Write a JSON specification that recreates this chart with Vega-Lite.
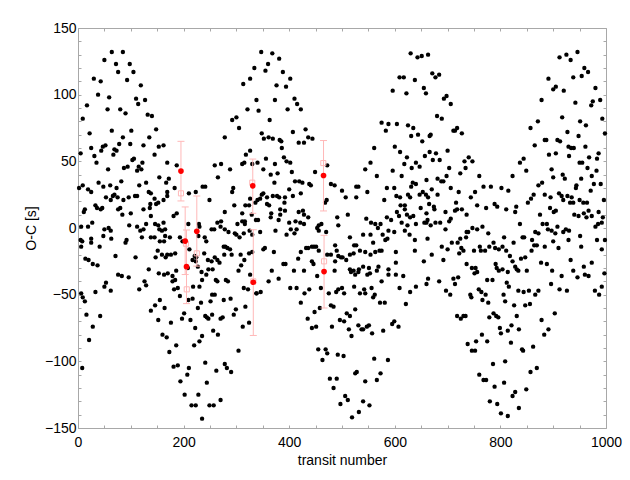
{
"$schema":"https://vega.github.io/schema/vega-lite/v6.json",
"width":528,"height":400,
"autosize":{"type":"none"},
"padding":{"left":78,"top":28,"right":24,"bottom":52},
"background":"white",
"config":{"view":{"stroke":"#a8a8a8","strokeWidth":1},"font":"Liberation Sans"},
"datasets":{
"pts":[
{"x":64,"y":132},{"x":85,"y":132},{"x":50,"y":126},{"x":72,"y":123},{"x":98,"y":123},{"x":76,"y":117},{"x":105,"y":117},{"x":30,"y":112},{"x":43,"y":110},{"x":93,"y":111},{"x":119,"y":107},{"x":38,"y":100},{"x":59,"y":98},{"x":110,"y":97},{"x":127,"y":96},{"x":114,"y":93},{"x":17,"y":92},{"x":56,"y":89},{"x":80,"y":89},{"x":90,"y":86},{"x":9,"y":82},{"x":132,"y":85},{"x":140,"y":84},{"x":22,"y":71},{"x":64,"y":73},{"x":101,"y":73},{"x":148,"y":74},{"x":85,"y":68},{"x":135,"y":68},{"x":78,"y":63},{"x":99,"y":63},{"x":124,"y":62},{"x":52,"y":62},{"x":25,"y":60},{"x":47,"y":61},{"x":44,"y":58},{"x":69,"y":59},{"x":73,"y":58},{"x":153,"y":61},{"x":162,"y":62},{"x":5,"y":56},{"x":31,"y":54},{"x":67,"y":55},{"x":145,"y":55},{"x":106,"y":52},{"x":103,"y":51},{"x":278,"y":68},{"x":292,"y":81},{"x":300,"y":83},{"x":305,"y":75},{"x":313,"y":108},{"x":326,"y":112},{"x":334,"y":120},{"x":321,"y":89},{"x":338,"y":96},{"x":318,"y":55},{"x":326,"y":58},{"x":122,"y":49},{"x":2,"y":30},
{"x":347,"y":132},{"x":368,"y":131},{"x":381,"y":127},{"x":360,"y":123},{"x":355,"y":118},{"x":388,"y":117},{"x":402,"y":112},{"x":376,"y":107},{"x":394,"y":106},{"x":373,"y":96},{"x":410,"y":97},{"x":342,"y":88},{"x":415,"y":93},{"x":397,"y":89},{"x":422,"y":89},{"x":363,"y":81},{"x":348,"y":71},{"x":352,"y":67},{"x":361,"y":68},{"x":369,"y":67},{"x":382,"y":66},{"x":385,"y":65},{"x":386,"y":60},{"x":407,"y":72},{"x":431,"y":74},{"x":436,"y":68},{"x":444,"y":67},{"x":418,"y":64},{"x":428,"y":64},{"x":390,"y":53},{"x":356,"y":52},{"x":395,"y":50},{"x":340,"y":49},{"x":373,"y":48},{"x":402,"y":49},
{"x":630,"y":131},{"x":643,"y":128},{"x":651,"y":129},{"x":663,"y":130},{"x":609,"y":113},{"x":617,"y":113},{"x":638,"y":111},{"x":596,"y":103},{"x":622,"y":101},{"x":655,"y":105},{"x":659,"y":101},{"x":575,"y":79},{"x":583,"y":73},{"x":588,"y":78},{"x":604,"y":78},{"x":625,"y":77},{"x":635,"y":75},{"x":644,"y":70},{"x":631,"y":69},{"x":652,"y":65},{"x":666,"y":69},{"x":561,"y":60},{"x":600,"y":61},{"x":610,"y":57},{"x":623,"y":53},{"x":657,"y":54},{"x":666,"y":57},{"x":554,"y":49},{"x":618,"y":48},{"x":640,"y":49},
{"x":671,"y":116},{"x":677,"y":113},{"x":684,"y":115},{"x":693,"y":97},{"x":698,"y":99},{"x":706,"y":93},{"x":680,"y":84},{"x":689,"y":82},{"x":668,"y":70},{"x":711,"y":73},{"x":714,"y":73},{"x":718,"y":75},{"x":727,"y":71},{"x":700,"y":58},{"x":678,"y":56},{"x":672,"y":51},{"x":685,"y":51},{"x":740,"y":53},{"x":732,"y":50},{"x":747,"y":50},
{"x":946,"y":132},{"x":925,"y":130},{"x":912,"y":128},{"x":933,"y":126},{"x":959,"y":120},{"x":966,"y":117},{"x":891,"y":112},{"x":938,"y":113},{"x":954,"y":114},{"x":900,"y":104},{"x":905,"y":106},{"x":920,"y":103},{"x":980,"y":105},{"x":878,"y":96},{"x":975,"y":95},{"x":989,"y":96},{"x":972,"y":92},{"x":942,"y":94},{"x":917,"y":83},{"x":951,"y":80},{"x":962,"y":77},{"x":993,"y":82},{"x":871,"y":80},{"x":857,"y":75},{"x":998,"y":71},{"x":927,"y":72},{"x":948,"y":69},{"x":884,"y":66},{"x":887,"y":66},{"x":908,"y":66},{"x":913,"y":65},{"x":865,"y":62},{"x":929,"y":61},{"x":934,"y":60},{"x":939,"y":60},{"x":961,"y":61},{"x":892,"y":55},{"x":905,"y":56},{"x":930,"y":54},{"x":968,"y":53},{"x":986,"y":56},{"x":983,"y":52},{"x":844,"y":52},{"x":837,"y":49},{"x":950,"y":49},{"x":955,"y":49},
{"x":35,"y":49},{"x":94,"y":46},{"x":87,"y":45},{"x":57,"y":44},{"x":115,"y":46},{"x":112,"y":43},{"x":120,"y":44},{"x":169,"y":49},{"x":187,"y":47},{"x":259,"y":47},{"x":271,"y":48},{"x":311,"y":48},{"x":315,"y":49},{"x":330,"y":48},{"x":154,"y":38},{"x":172,"y":37},{"x":167,"y":34},{"x":82,"y":35},{"x":39,"y":34},{"x":116,"y":32},{"x":129,"y":34},{"x":9,"y":32},{"x":48,"y":31},{"x":61,"y":32},{"x":236,"y":31},{"x":241,"y":31},{"x":265,"y":38},{"x":288,"y":44},{"x":294,"y":30},{"x":183,"y":30},{"x":19,"y":29},{"x":25,"y":27},{"x":73,"y":30},{"x":66,"y":24},{"x":69,"y":25},{"x":75,"y":23},{"x":53,"y":23},{"x":62,"y":21},{"x":108,"y":24},{"x":112,"y":24},{"x":86,"y":21},{"x":96,"y":23},{"x":134,"y":27},{"x":138,"y":26},{"x":145,"y":22},{"x":162,"y":21},{"x":169,"y":27},{"x":169,"y":24},{"x":210,"y":26},{"x":223,"y":27},{"x":249,"y":21},{"x":292,"y":27},{"x":326,"y":22},{"x":152,"y":19},{"x":148,"y":18},{"x":13,"y":14},{"x":11,"y":12},{"x":33,"y":17},{"x":36,"y":15},{"x":43,"y":14},{"x":46,"y":15},{"x":80,"y":15},{"x":76,"y":14},{"x":100,"y":11},{"x":84,"y":10},{"x":124,"y":14},{"x":136,"y":15},{"x":137,"y":18},{"x":187,"y":11},{"x":181,"y":9},{"x":138,"y":9},{"x":296,"y":17},{"x":317,"y":17},{"x":324,"y":17},{"x":311,"y":11},{"x":278,"y":12},{"x":329,"y":10},{"x":316,"y":5},{"x":6,"y":1},{"x":19,"y":1},{"x":27,"y":4},{"x":50,"y":-1},{"x":58,"y":0},{"x":62,"y":-2},{"x":97,"y":2},{"x":112,"y":1},{"x":129,"y":3},{"x":124,"y":-1},{"x":118,"y":-2},{"x":146,"y":3},{"x":152,"y":2},{"x":162,"y":4},{"x":154,"y":-1},{"x":159,"y":-2},{"x":145,"y":-7},{"x":165,"y":-1},{"x":209,"y":3},{"x":229,"y":3},{"x":230,"y":1},{"x":253,"y":-1},{"x":258,"y":-1},{"x":264,"y":4},{"x":271,"y":5},{"x":270,"y":1},{"x":278,"y":-1},{"x":302,"y":3},{"x":311,"y":5},{"x":316,"y":3},{"x":325,"y":-2},{"x":5,"y":-9},{"x":8,"y":-10},{"x":25,"y":-8},{"x":25,"y":-11},{"x":48,"y":-6},{"x":63,"y":-8},{"x":92,"y":-9},{"x":90,"y":-11},{"x":121,"y":-7},{"x":138,"y":-7},{"x":155,"y":-10},{"x":163,"y":-10},{"x":165,"y":-6},{"x":174,"y":-7},{"x":193,"y":-7},{"x":198,"y":-10},{"x":228,"y":-6},{"x":240,"y":-7},{"x":243,"y":-10},{"x":285,"y":-3},{"x":297,"y":-4},{"x":300,"y":-5},{"x":306,"y":-7},{"x":314,"y":-4},{"x":330,"y":-5},{"x":6,"y":-14},{"x":41,"y":-14},{"x":276,"y":-14},{"x":279,"y":-14},{"x":283,"y":-15},{"x":288,"y":-16},{"x":151,"y":-17},{"x":159,"y":-20},{"x":169,"y":-20},{"x":166,"y":-22},{"x":176,"y":-20},{"x":184,"y":-19},{"x":211,"y":-16},{"x":217,"y":-24},{"x":224,"y":-22},{"x":221,"y":-21},{"x":239,"y":-19},{"x":291,"y":-20},{"x":308,"y":-20},{"x":324,"y":-19},{"x":330,"y":-18},{"x":277,"y":-20},{"x":109,"y":-22},{"x":147,"y":-22},{"x":14,"y":-23},{"x":20,"y":-24},{"x":71,"y":-21},{"x":223,"y":-25},{"x":227,"y":-29},{"x":246,"y":-24},{"x":253,"y":-25},{"x":259,"y":-22},{"x":264,"y":-24},{"x":268,"y":-26},{"x":309,"y":-28},{"x":315,"y":-24},{"x":28,"y":-27},{"x":37,"y":-28},{"x":134,"y":-31},{"x":186,"y":-32},{"x":170,"y":-34},{"x":208,"y":-30},{"x":234,"y":-33},{"x":247,"y":-31},{"x":255,"y":-31},{"x":76,"y":-35},{"x":83,"y":-36},{"x":96,"y":-37},{"x":153,"y":-34},{"x":163,"y":-35},{"x":179,"y":-36},{"x":184,"y":-39},{"x":235,"y":-39},{"x":243,"y":-35},{"x":261,"y":-39},{"x":264,"y":-40},{"x":280,"y":-39},{"x":284,"y":-40},{"x":326,"y":-35},{"x":304,"y":-32},{"x":53,"y":-41},{"x":50,"y":-44},{"x":126,"y":-40},{"x":129,"y":-43},{"x":179,"y":-40},{"x":182,"y":-46},{"x":189,"y":-45},{"x":218,"y":-44},{"x":230,"y":-44},{"x":116,"y":-46},{"x":33,"y":-48},{"x":259,"y":-50},{"x":254,"y":-50},{"x":314,"y":-45},{"x":322,"y":-46},
{"x":351,"y":44},{"x":365,"y":40},{"x":378,"y":41},{"x":405,"y":42},{"x":449,"y":42},{"x":472,"y":47},{"x":544,"y":44},{"x":566,"y":39},{"x":596,"y":43},{"x":613,"y":39},{"x":632,"y":45},{"x":647,"y":46},{"x":372,"y":34},{"x":411,"y":35},{"x":419,"y":35},{"x":425,"y":34},{"x":438,"y":33},{"x":441,"y":32},{"x":479,"y":33},{"x":486,"y":32},{"x":500,"y":28},{"x":527,"y":31},{"x":531,"y":31},{"x":548,"y":27},{"x":585,"y":30},{"x":599,"y":30},{"x":634,"y":34},{"x":640,"y":33},{"x":631,"y":31},{"x":653,"y":27},{"x":659,"y":25},{"x":647,"y":25},{"x":625,"y":25},{"x":351,"y":26},{"x":348,"y":25},{"x":340,"y":21},{"x":345,"y":22},{"x":336,"y":19},{"x":358,"y":23},{"x":369,"y":24},{"x":377,"y":24},{"x":381,"y":23},{"x":392,"y":23},{"x":391,"y":19},{"x":400,"y":29},{"x":407,"y":24},{"x":422,"y":26},{"x":471,"y":21},{"x":468,"y":19},{"x":507,"y":23},{"x":527,"y":23},{"x":580,"y":21},{"x":603,"y":24},{"x":610,"y":23},{"x":629,"y":23},{"x":663,"y":23},{"x":611,"y":17},{"x":619,"y":17},{"x":619,"y":14},{"x":358,"y":18},{"x":362,"y":17},{"x":383,"y":14},{"x":392,"y":13},{"x":383,"y":10},{"x":366,"y":11},{"x":418,"y":12},{"x":426,"y":13},{"x":428,"y":10},{"x":436,"y":8},{"x":511,"y":10},{"x":585,"y":8},{"x":604,"y":12},{"x":608,"y":9},{"x":613,"y":4},{"x":593,"y":6},{"x":623,"y":10},{"x":629,"y":8},{"x":635,"y":9},{"x":649,"y":15},{"x":660,"y":11},{"x":656,"y":4},{"x":640,"y":3},{"x":337,"y":6},{"x":341,"y":6},{"x":365,"y":8},{"x":380,"y":6},{"x":400,"y":4},{"x":412,"y":5},{"x":403,"y":-1},{"x":414,"y":-1},{"x":421,"y":4},{"x":428,"y":3},{"x":453,"y":0},{"x":456,"y":2},{"x":461,"y":3},{"x":456,"y":-2},{"x":470,"y":-3},{"x":491,"y":8},{"x":493,"y":2},{"x":546,"y":7},{"x":555,"y":4},{"x":563,"y":3},{"x":573,"y":3},{"x":568,"y":0},{"x":588,"y":-2},{"x":599,"y":-3},{"x":624,"y":2},{"x":345,"y":-3},{"x":374,"y":-2},{"x":395,"y":-5},{"x":410,"y":-4},{"x":515,"y":-7},{"x":523,"y":-13},{"x":527,"y":-13},{"x":540,"y":-5},{"x":554,"y":-5},{"x":559,"y":-11},{"x":577,"y":-5},{"x":582,"y":-9},{"x":586,"y":-8},{"x":619,"y":-2},{"x":628,"y":-5},{"x":638,"y":-9},{"x":662,"y":-8},{"x":351,"y":-16},{"x":354,"y":-15},{"x":371,"y":-18},{"x":422,"y":-18},{"x":432,"y":-15},{"x":436,"y":-15},{"x":443,"y":-14},{"x":447,"y":-14},{"x":451,"y":-14},{"x":456,"y":-17},{"x":472,"y":-20},{"x":479,"y":-20},{"x":487,"y":-13},{"x":490,"y":-17},{"x":498,"y":-22},{"x":508,"y":-24},{"x":515,"y":-20},{"x":522,"y":-19},{"x":534,"y":-17},{"x":544,"y":-18},{"x":554,"y":-20},{"x":563,"y":-18},{"x":571,"y":-17},{"x":575,"y":-17},{"x":602,"y":-18},{"x":638,"y":-17},{"x":389,"y":-27},{"x":393,"y":-27},{"x":417,"y":-23},{"x":443,"y":-25},{"x":446,"y":-27},{"x":487,"y":-25},{"x":493,"y":-21},{"x":501,"y":-22},{"x":515,"y":-31},{"x":522,"y":-32},{"x":532,"y":-31},{"x":540,"y":-29},{"x":551,"y":-30},{"x":569,"y":-29},{"x":588,"y":-31},{"x":602,"y":-26},{"x":655,"y":-25},{"x":367,"y":-32},{"x":361,"y":-40},{"x":380,"y":-38},{"x":409,"y":-32},{"x":428,"y":-32},{"x":453,"y":-36},{"x":486,"y":-32},{"x":517,"y":-33},{"x":525,"y":-35},{"x":531,"y":-33},{"x":548,"y":-35},{"x":553,"y":-34},{"x":566,"y":-32},{"x":575,"y":-40},{"x":588,"y":-35},{"x":602,"y":-35},{"x":616,"y":-36},{"x":663,"y":-38},{"x":338,"y":-49},{"x":346,"y":-48},{"x":402,"y":-45},{"x":414,"y":-45},{"x":429,"y":-49},{"x":438,"y":-46},{"x":460,"y":-45},{"x":489,"y":-48},{"x":493,"y":-46},{"x":500,"y":-45},{"x":504,"y":-49},{"x":523,"y":-44},{"x":542,"y":-46},{"x":556,"y":-45},{"x":562,"y":-50},{"x":609,"y":-45},{"x":629,"y":-48},{"x":640,"y":-44},{"x":660,"y":-42},
{"x":703,"y":45},{"x":734,"y":45},{"x":724,"y":41},{"x":760,"y":39},{"x":849,"y":43},{"x":823,"y":39},{"x":897,"y":44},{"x":900,"y":38},{"x":918,"y":40},{"x":922,"y":37},{"x":965,"y":45},{"x":973,"y":39},{"x":982,"y":43},{"x":660,"y":36},{"x":681,"y":37},{"x":688,"y":35},{"x":692,"y":35},{"x":698,"y":39},{"x":706,"y":30},{"x":721,"y":27},{"x":744,"y":23},{"x":752,"y":27},{"x":768,"y":31},{"x":782,"y":31},{"x":802,"y":30},{"x":815,"y":28},{"x":863,"y":25},{"x":858,"y":22},{"x":852,"y":19},{"x":872,"y":32},{"x":879,"y":34},{"x":884,"y":25},{"x":895,"y":23},{"x":911,"y":26},{"x":916,"y":24},{"x":919,"y":21},{"x":927,"y":24},{"x":935,"y":23},{"x":932,"y":19},{"x":938,"y":19},{"x":950,"y":21},{"x":957,"y":19},{"x":964,"y":19},{"x":943,"y":30},{"x":944,"y":32},{"x":953,"y":37},{"x":971,"y":28},{"x":977,"y":33},{"x":990,"y":33},{"x":996,"y":21},{"x":670,"y":29},{"x":681,"y":25},{"x":665,"y":18},{"x":674,"y":16},{"x":675,"y":14},{"x":696,"y":12},{"x":716,"y":19},{"x":714,"y":13},{"x":718,"y":14},{"x":727,"y":14},{"x":736,"y":10},{"x":756,"y":17},{"x":773,"y":15},{"x":789,"y":18},{"x":794,"y":16},{"x":811,"y":14},{"x":830,"y":16},{"x":828,"y":12},{"x":875,"y":10},{"x":894,"y":15},{"x":905,"y":13},{"x":901,"y":12},{"x":940,"y":10},{"x":948,"y":9},{"x":958,"y":11},{"x":963,"y":8},{"x":967,"y":13},{"x":973,"y":9},{"x":986,"y":12},{"x":994,"y":8},{"x":662,"y":6},{"x":660,"y":4},{"x":668,"y":2},{"x":677,"y":4},{"x":686,"y":4},{"x":696,"y":-1},{"x":703,"y":5},{"x":706,"y":7},{"x":736,"y":-3},{"x":739,"y":-3},{"x":735,"y":-7},{"x":747,"y":0},{"x":756,"y":-1},{"x":766,"y":1},{"x":777,"y":-4},{"x":807,"y":-7},{"x":837,"y":3},{"x":842,"y":-7},{"x":845,"y":-7},{"x":866,"y":-3},{"x":872,"y":-4},{"x":880,"y":3},{"x":888,"y":3},{"x":890,"y":-1},{"x":897,"y":-2},{"x":904,"y":-4},{"x":908,"y":1},{"x":919,"y":-3},{"x":924,"y":-1},{"x":930,"y":-2},{"x":951,"y":-6},{"x":980,"y":1},{"x":985,"y":3},{"x":992,"y":4},{"x":689,"y":-14},{"x":700,"y":-16},{"x":708,"y":-11},{"x":719,"y":-11},{"x":724,"y":-8},{"x":726,"y":-15},{"x":730,"y":-17},{"x":722,"y":-19},{"x":750,"y":-17},{"x":761,"y":-14},{"x":763,"y":-17},{"x":771,"y":-17},{"x":779,"y":-14},{"x":787,"y":-11},{"x":790,"y":-15},{"x":797,"y":-16},{"x":804,"y":-14},{"x":825,"y":-11},{"x":811,"y":-17},{"x":818,"y":-21},{"x":847,"y":-22},{"x":860,"y":-9},{"x":864,"y":-13},{"x":869,"y":-13},{"x":859,"y":-17},{"x":884,"y":-14},{"x":900,"y":-10},{"x":910,"y":-15},{"x":929,"y":-9},{"x":953,"y":-14},{"x":983,"y":-9},{"x":992,"y":-16},{"x":998,"y":-9},{"x":670,"y":-20},{"x":692,"y":-24},{"x":736,"y":-27},{"x":746,"y":-30},{"x":753,"y":-30},{"x":756,"y":-33},{"x":751,"y":-34},{"x":791,"y":-27},{"x":793,"y":-30},{"x":797,"y":-32},{"x":804,"y":-31},{"x":814,"y":-33},{"x":823,"y":-25},{"x":828,"y":-29},{"x":831,"y":-31},{"x":834,"y":-32},{"x":839,"y":-23},{"x":850,"y":-32},{"x":877,"y":-26},{"x":888,"y":-27},{"x":898,"y":-32},{"x":933,"y":-24},{"x":938,"y":-32},{"x":958,"y":-29},{"x":973,"y":-26},{"x":997,"y":-34},{"x":684,"y":-40},{"x":697,"y":-47},{"x":705,"y":-50},{"x":711,"y":-38},{"x":714,"y":-42},{"x":720,"y":-37},{"x":743,"y":-50},{"x":759,"y":-46},{"x":764,"y":-48},{"x":775,"y":-39},{"x":785,"y":-39},{"x":812,"y":-41},{"x":816,"y":-44},{"x":834,"y":-47},{"x":844,"y":-48},{"x":854,"y":-47},{"x":872,"y":-47},{"x":866,"y":-50},{"x":896,"y":-42},{"x":916,"y":-36},{"x":912,"y":-46},{"x":926,"y":-47},{"x":946,"y":-37},{"x":960,"y":-35},{"x":967,"y":-36},{"x":992,"y":-44},{"x":979,"y":-47},{"x":987,"y":-50},
{"x":6,"y":-49},{"x":9,"y":-52},{"x":13,"y":-55},{"x":62,"y":-47},{"x":16,"y":-65},{"x":42,"y":-66},{"x":28,"y":-74},{"x":21,"y":-84},{"x":8,"y":-105},{"x":138,"y":-62},{"x":146,"y":-58},{"x":155,"y":-54},{"x":164,"y":-60},{"x":152,"y":-69},{"x":176,"y":-71},{"x":193,"y":-51},{"x":201,"y":-64},{"x":197,"y":-68},{"x":209,"y":-54},{"x":217,"y":-53},{"x":227,"y":-60},{"x":233,"y":-56},{"x":213,"y":-69},{"x":222,"y":-75},{"x":241,"y":-66},{"x":244,"y":-67},{"x":247,"y":-68},{"x":251,"y":-55},{"x":254,"y":-65},{"x":256,"y":-77},{"x":265,"y":-80},{"x":270,"y":-68},{"x":274,"y":-67},{"x":276,"y":-54},{"x":289,"y":-53},{"x":295,"y":-65},{"x":299,"y":-61},{"x":317,"y":-59},{"x":312,"y":-74},{"x":324,"y":-71},{"x":304,"y":-92},{"x":338,"y":-49},{"x":160,"y":-80},{"x":168,"y":-82},{"x":173,"y":-93},{"x":186,"y":-88},{"x":181,"y":-104},{"x":189,"y":-103},{"x":194,"y":-115},{"x":202,"y":-125},{"x":207,"y":-110},{"x":210,"y":-105},{"x":220,"y":-88},{"x":230,"y":-85},{"x":235,"y":-81},{"x":241,"y":-101},{"x":244,"y":-116},{"x":262,"y":-107},{"x":278,"y":-102},{"x":282,"y":-105},{"x":290,"y":-108},{"x":270,"y":-129},{"x":228,"y":-125},{"x":223,"y":-133},{"x":215,"y":-133},{"x":249,"y":-133},{"x":257,"y":-133},{"x":235,"y":-143},
{"x":422,"y":-56},{"x":475,"y":-49},{"x":534,"y":-49},{"x":544,"y":-49},{"x":559,"y":-52},{"x":572,"y":-56},{"x":581,"y":-56},{"x":621,"y":-57},{"x":479,"y":-58},{"x":484,"y":-59},{"x":458,"y":-60},{"x":448,"y":-63},{"x":435,"y":-68},{"x":443,"y":-75},{"x":451,"y":-74},{"x":481,"y":-74},{"x":496,"y":-69},{"x":504,"y":-70},{"x":509,"y":-64},{"x":515,"y":-66},{"x":525,"y":-61},{"x":513,"y":-76},{"x":518,"y":-81},{"x":531,"y":-73},{"x":537,"y":-76},{"x":540,"y":-76},{"x":547,"y":-74},{"x":551,"y":-73},{"x":557,"y":-79},{"x":578,"y":-77},{"x":595,"y":-72},{"x":599,"y":-70},{"x":607,"y":-74},{"x":455,"y":-91},{"x":469,"y":-91},{"x":472,"y":-94},{"x":463,"y":-99},{"x":492,"y":-95},{"x":503,"y":-96},{"x":561,"y":-98},{"x":587,"y":-99},{"x":525,"y":-109},{"x":528,"y":-108},{"x":573,"y":-109},{"x":566,"y":-114},{"x":544,"y":-115},{"x":477,"y":-113},{"x":490,"y":-113},{"x":484,"y":-120},{"x":506,"y":-126},{"x":511,"y":-129},{"x":497,"y":-132},{"x":540,"y":-130},{"x":552,"y":-133},{"x":532,"y":-138},{"x":519,"y":-142},
{"x":745,"y":-52},{"x":772,"y":-50},{"x":766,"y":-54},{"x":777,"y":-56},{"x":806,"y":-50},{"x":809,"y":-55},{"x":826,"y":-58},{"x":847,"y":-58},{"x":856,"y":-57},{"x":718,"y":-66},{"x":725,"y":-68},{"x":730,"y":-66},{"x":734,"y":-66},{"x":779,"y":-67},{"x":787,"y":-64},{"x":792,"y":-66},{"x":796,"y":-67},{"x":831,"y":-66},{"x":903,"y":-64},{"x":799,"y":-75},{"x":801,"y":-79},{"x":814,"y":-77},{"x":821,"y":-73},{"x":835,"y":-76},{"x":878,"y":-69},{"x":891,"y":-76},{"x":883,"y":-80},{"x":765,"y":-80},{"x":738,"y":-87},{"x":754,"y":-85},{"x":775,"y":-85},{"x":820,"y":-86},{"x":841,"y":-91},{"x":843,"y":-92},{"x":862,"y":-89},{"x":746,"y":-92},{"x":752,"y":-92},{"x":786,"y":-102},{"x":809,"y":-100},{"x":760,"y":-110},{"x":768,"y":-114},{"x":773,"y":-114},{"x":789,"y":-119},{"x":807,"y":-116},{"x":828,"y":-123},{"x":823,"y":-126},{"x":849,"y":-121},{"x":857,"y":-108},{"x":869,"y":-105},{"x":780,"y":-130},{"x":794,"y":-132},{"x":835,"y":-135},{"x":801,"y":-139},{"x":814,"y":-141}
],
"obs":[
{"x":195,"y":42.7,"lo":20.3,"hi":65},
{"x":203,"y":-9.8,"lo":-34.9,"hi":15.8},
{"x":205.5,"y":-29,"lo":-56.7,"hi":-1.5},
{"x":225,"y":-2.5,"lo":-28.6,"hi":24},
{"x":331,"y":31.6,"lo":11,"hi":51.7},
{"x":332,"y":-40.7,"lo":-80.6,"hi":-1.3},
{"x":465,"y":39.4,"lo":12.8,"hi":65.6},
{"x":466,"y":-32.7,"lo":-60,"hi":-5.5}
],
"mod":[
{"x":195,"y":26},{"x":204.5,"y":-11.8},{"x":206,"y":-46},{"x":225,"y":-19},{"x":330,"y":34},{"x":332,"y":-40},{"x":464.6,"y":48.7},{"x":466,"y":-25}
]
},
"resolve":{"axis":{"x":"independent","y":"independent"}},
"layer":[
{"data":{"name":"pts"},
 "mark":{"type":"circle","color":"black","size":19,"opacity":1},
 "encoding":{
  "x":{"field":"x","type":"quantitative","scale":{"domain":[0,1000],"nice":false,"zero":false},
   "axis":{"orient":"bottom","values":[0,50,100,150,200,250,300,350,400,450,500,550,600,650,700,750,800,850,900,950,1000],"format":"d","labelExpr":"datum.value % 200 === 0 ? datum.label : ''","title":"transit number","tickSize":-3,"tickColor":"#a8a8a8","domain":false,"grid":false,"labelFontSize":14,"labelColor":"black","labelFont":"Liberation Sans","titleFont":"Liberation Sans","titleFontSize":14,"titleFontWeight":"normal","titleColor":"black","labelPadding":10,"titlePadding":4,"labelFlush":false,"labelOverlap":false,
    "encode":{"ticks":{"update":{"y2":{"signal":"datum.value % 200 === 0 ? -6 : -3"}}}}}},
  "y":{"field":"y","type":"quantitative","scale":{"domain":[-150,150],"nice":false,"zero":false},
   "axis":{"orient":"left","values":[-150,-140,-130,-120,-110,-100,-90,-80,-70,-60,-50,-40,-30,-20,-10,0,10,20,30,40,50,60,70,80,90,100,110,120,130,140,150],"format":"d","labelExpr":"datum.value % 50 === 0 ? datum.label : ''","title":"O-C [s]","tickSize":-3,"tickColor":"#a8a8a8","domain":false,"grid":false,"labelFontSize":14,"labelColor":"black","labelFont":"Liberation Sans","titleFont":"Liberation Sans","titleFontSize":14,"titleFontWeight":"normal","titleColor":"black","labelPadding":5,"titlePadding":6,"labelFlush":false,"labelOverlap":false,
    "encode":{"ticks":{"update":{"x2":{"signal":"datum.value % 50 === 0 ? 6 : 3"}}}}}}
 }},
{"data":{"name":"obs"},
 "mark":{"type":"rule","color":"#ffb8b8","strokeWidth":1},
 "encoding":{"x":{"field":"x","type":"quantitative","axis":null},"y":{"field":"lo","type":"quantitative","axis":null},"y2":{"field":"hi"}}},
{"data":{"name":"obs"},
 "mark":{"type":"tick","orient":"horizontal","color":"#ffb8b8","size":7,"thickness":1,"opacity":1},
 "encoding":{"x":{"field":"x","type":"quantitative","axis":null},"y":{"field":"lo","type":"quantitative","axis":null}}},
{"data":{"name":"obs"},
 "mark":{"type":"tick","orient":"horizontal","color":"#ffb8b8","size":7,"thickness":1,"opacity":1},
 "encoding":{"x":{"field":"x","type":"quantitative","axis":null},"y":{"field":"hi","type":"quantitative","axis":null}}},
{"data":{"name":"mod"},
 "mark":{"type":"square","filled":false,"color":"#ffb8b8","size":26,"strokeWidth":1,"opacity":1},
 "encoding":{
  "x":{"field":"x","type":"quantitative",
   "axis":{"orient":"top","values":[0,50,100,150,200,250,300,350,400,450,500,550,600,650,700,750,800,850,900,950,1000],"labels":false,"title":null,"tickSize":-3,"tickColor":"#a8a8a8","domain":false,"grid":false,
    "encode":{"ticks":{"update":{"y2":{"signal":"datum.value % 200 === 0 ? 6 : 3"}}}}}},
  "y":{"field":"y","type":"quantitative",
   "axis":{"orient":"right","values":[-150,-140,-130,-120,-110,-100,-90,-80,-70,-60,-50,-40,-30,-20,-10,0,10,20,30,40,50,60,70,80,90,100,110,120,130,140,150],"labels":false,"title":null,"tickSize":-3,"tickColor":"#a8a8a8","domain":false,"grid":false,
    "encode":{"ticks":{"update":{"x2":{"signal":"datum.value % 50 === 0 ? -6 : -3"}}}}}}
 }},
{"data":{"name":"obs"},
 "mark":{"type":"circle","color":"#ff0000","size":32,"opacity":1},
 "encoding":{"x":{"field":"x","type":"quantitative","axis":null},"y":{"field":"y","type":"quantitative","axis":null}}}
]
}
